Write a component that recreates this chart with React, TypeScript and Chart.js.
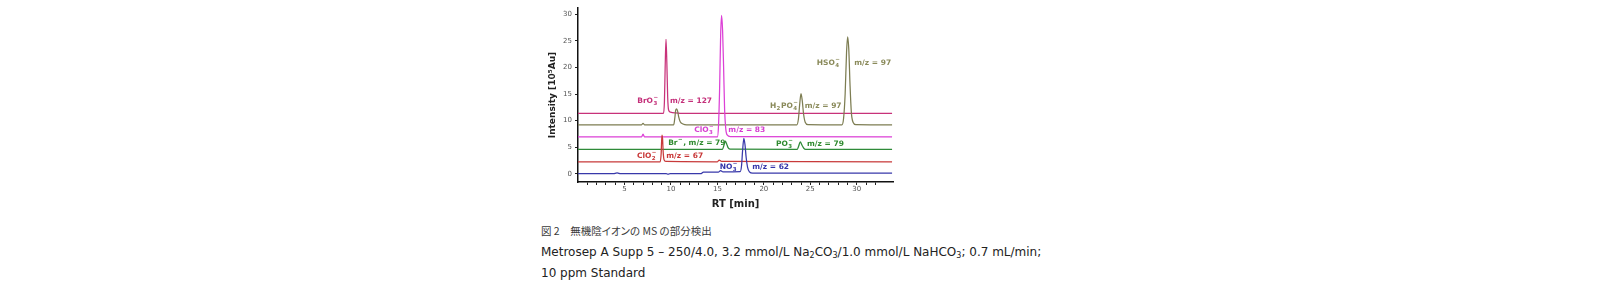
import React, { useEffect, useRef } from "react";
import { Chart, registerables } from "chart.js";

Chart.register(...registerables);

type Pt = [number, number];

// Retention time [min] / intensity [10^5 Au] pairs
const no3Trace: Pt[] = [
  [0, 0], [3.8, 0], [4.2, 0.15], [4.6, 0], [9.5, 0], [9.7, -0.1], [9.9, 0], [13.2, 0], [13.5, 0.3],
  [15.1, 0.3], [15.35, 0.6], [15.6, 0.35], [17.45, 0.4], [17.6, 1.5], [17.72, 4.5], [17.85, 6.65],
  [17.97, 5.5], [18.1, 3], [18.25, 1.2], [18.45, 0.35], [18.8, 0.1], [33.8, 0.1],
];
const clo2Trace: Pt[] = [
  [0, 2.25], [8.85, 2.25], [8.95, 3.8], [9.03, 7.27], [9.1, 6.6], [9.17, 4], [9.27, 2.6], [9.5, 2.3],
  [15.0, 2.25], [15.2, 2.55], [15.45, 2.3], [33.8, 2.25],
];
const brPo3Trace: Pt[] = [
  [0, 4.6], [15.55, 4.6], [15.7, 5.3], [15.85, 6.15], [16.0, 5.6], [16.15, 4.9], [16.35, 4.65],
  [23.6, 4.6], [23.75, 5.2], [23.92, 6.0], [24.1, 5.4], [24.3, 4.8], [24.5, 4.6], [33.8, 4.6],
];
const clo3Trace: Pt[] = [
  [0, 6.95], [6.85, 6.95], [7.0, 7.45], [7.15, 6.95], [15.0, 6.95], [15.12, 9], [15.24, 16],
  [15.35, 26], [15.45, 29.8], [15.56, 27], [15.67, 20], [15.78, 12], [15.9, 8.5], [16.05, 7.3],
  [16.4, 7.0], [33.8, 6.95],
];
const phosSulfTrace: Pt[] = [
  [0, 9.2], [6.85, 9.2], [7.0, 9.5], [7.15, 9.2], [10.3, 9.2], [10.42, 10.5], [10.52, 12.0],
  [10.62, 12.2], [10.72, 11.8], [10.85, 10.6], [11.0, 9.8], [11.3, 9.35], [11.7, 9.2],
  [23.55, 9.2], [23.72, 10.3], [23.87, 13.3], [24.0, 15.1], [24.13, 13.8], [24.28, 11.2],
  [24.45, 9.7], [24.75, 9.25], [28.4, 9.2], [28.58, 10.4], [28.75, 15], [28.9, 22.8],
  [29.02, 25.75], [29.14, 23.5], [29.28, 16.5], [29.42, 11.5], [29.6, 9.7], [29.9, 9.25], [33.8, 9.2],
];
const bro3Trace: Pt[] = [
  [0, 11.35], [9.2, 11.35], [9.3, 13.5], [9.38, 20], [9.47, 25.3], [9.56, 21], [9.65, 14.5],
  [9.75, 12], [9.95, 11.6], [10.5, 11.45], [11.5, 11.35], [33.8, 11.35],
];

const yTickValues = [0, 5, 10, 15, 20, 25, 30];
const xLabelEvery = 5;

// Peak labels: markup ({sub|sup}), retention time, intensity, colour
const peakLabels: [string, number, number, string][] = [
  ["BrO{3|−}", 6.37, 13.67, "#c4307a"],
  ["m/z = 127", 9.9, 13.67, "#c4307a"],
  ["ClO{3|−}", 12.5, 8.2, "#d63fd0"],
  ["m/z = 83", 16.18, 8.2, "#d63fd0"],
  ["Br{|−}, m/z = 79", 9.7, 5.8, "#2f8a2f"],
  ["ClO{2|−}", 6.35, 3.4, "#c83838"],
  ["m/z = 67", 9.5, 3.4, "#c83838"],
  ["NO{3|−}", 15.25, 1.25, "#3535aa"],
  ["m/z = 62", 18.75, 1.25, "#3535aa"],
  ["PO{3|−}", 21.3, 5.6, "#2f8a2f"],
  ["m/z = 79", 24.65, 5.6, "#2f8a2f"],
  ["H{2|}PO{4|−}", 20.65, 12.8, "#8a8a5a"],
  ["m/z = 97", 24.4, 12.8, "#8a8a5a"],
  ["HSO{4|−}", 25.7, 20.8, "#8a8a5a"],
  ["m/z = 97", 29.73, 20.8, "#8a8a5a"],
];

function drawRich(ctx: CanvasRenderingContext2D, markup: string, px: number, py: number, color: string) {
  const main = "bold 7.5px 'DejaVu Sans'";
  const small = "bold 5.5px 'DejaVu Sans'";
  ctx.fillStyle = color;
  ctx.textBaseline = "middle";
  ctx.textAlign = "left";
  const re = /\{([^|}]*)\|([^}]*)\}/g;
  let last = 0;
  let xx = px;
  let m: RegExpExecArray | null;
  while ((m = re.exec(markup))) {
    const plain = markup.slice(last, m.index);
    ctx.font = main;
    ctx.fillText(plain, xx, py);
    xx += ctx.measureText(plain).width;
    ctx.font = small;
    let w = 0;
    if (m[1]) {
      ctx.fillText(m[1], xx + 0.4, py + 2.6);
      w = Math.max(w, ctx.measureText(m[1]).width);
    }
    if (m[2]) {
      ctx.fillText(m[2], xx + 0.4, py - 3.2);
      w = Math.max(w, ctx.measureText(m[2]).width);
    }
    xx += w + 1;
    last = re.lastIndex;
  }
  const rest = markup.slice(last);
  if (rest) {
    ctx.font = main;
    ctx.fillText(rest, xx, py);
  }
}

const labelPlugin = {
  id: "peakLabels",
  afterDatasetsDraw(chart: any) {
    const { ctx, scales } = chart;
    ctx.save();
    for (const [markup, t, v, color] of peakLabels) {
      drawRich(ctx, markup, scales.x.getPixelForValue(t), scales.y.getPixelForValue(v), color);
    }
    ctx.restore();
  },
};

const series = [
  { data: no3Trace, color: "#3838aa" },
  { data: clo2Trace, color: "#c83a3a" },
  { data: brPo3Trace, color: "#2e8a38" },
  { data: clo3Trace, color: "#dc40d6" },
  { data: phosSulfTrace, color: "#7d7d52" },
  { data: bro3Trace, color: "#c8327a" },
];

function ChartView() {
  const ref = useRef<HTMLCanvasElement>(null);
  useEffect(() => {
    if (!ref.current) return;
    const chart = new Chart(ref.current, {
      type: "line",
      data: {
        datasets: series.map((s) => ({
          data: s.data.map(([x, y]) => ({ x, y })),
          borderColor: s.color,
          borderWidth: 1.25,
          pointRadius: 0,
          fill: false,
          cubicInterpolationMode: "monotone" as const,
        })),
      },
      options: {
        animation: false,
        responsive: false,
        events: [],
        layout: { padding: { top: 8, right: 7, left: 0, bottom: 0 } },
        plugins: { legend: { display: false }, tooltip: { enabled: false } },
        scales: {
          x: {
            type: "linear",
            min: 0,
            max: 33.9,
            afterBuildTicks: (s: any) => {
              s.ticks = s.ticks.filter((t: any) => Number.isInteger(t.value) && t.value > 0);
            },
            afterFit: (s: any) => {
              s.height = 33;
            },
            ticks: {
              stepSize: 1,
              autoSkip: false,
              maxRotation: 0,
              padding: 0,
              color: "#555",
              font: { family: "'DejaVu Sans'", size: 7 },
              callback: (v: any) => (Number(v) % xLabelEvery === 0 ? String(v) : ""),
            },
            grid: { drawOnChartArea: false, drawTicks: true, tickLength: 3, color: "#222", tickWidth: 1 },
            border: { display: true, color: "#111", width: 1.5 },
            title: {
              display: true,
              text: "RT [min]",
              color: "#222",
              font: { family: "'DejaVu Sans'", size: 10, weight: "bold" },
              padding: { top: 0, bottom: 5 },
            },
          },
          y: {
            type: "linear",
            min: -1.56,
            max: 31.2,
            afterBuildTicks: (s: any) => {
              s.ticks = yTickValues.map((v) => ({ value: v }));
            },
            afterFit: (s: any) => {
              s.width = 58;
            },
            ticks: {
              padding: 3,
              color: "#555",
              font: { family: "'DejaVu Sans'", size: 7 },
            },
            grid: { drawOnChartArea: false, drawTicks: true, tickLength: 3, color: "#222", tickWidth: 1 },
            border: { display: true, color: "#111", width: 1.5 },
            title: {
              display: true,
              text: "Intensity [10⁵Au]",
              color: "#222",
              font: { family: "'DejaVu Sans'", size: 9, weight: "bold" },
              padding: { top: 27, bottom: 0 },
            },
          },
        },
      },
      plugins: [labelPlugin],
    });
    return () => chart.destroy();
  }, []);
  return (
    <canvas
      ref={ref}
      width={380}
      height={215}
      style={{ position: "absolute", left: 520, top: 0, width: 380, height: 215 }}
    />
  );
}

export default function App() {
  const sub: React.CSSProperties = { fontSize: "8px", verticalAlign: "-2px", lineHeight: 0 };
  return (
    <div style={{ position: "absolute", left: 0, top: 0, width: 1600, height: 291, background: "#fff", overflow: "hidden" }}>
      <ChartView />
      <div
        style={{
          position: "absolute",
          left: 541,
          top: 224,
          fontFamily: "'Noto Sans CJK JP', 'DejaVu Sans', sans-serif",
          fontSize: "10.5px",
          lineHeight: "14px",
          color: "#3a3a3a",
          whiteSpace: "nowrap",
          fontFeatureSettings: "'palt'",
        }}
      >
        図 2　無機陰イオンの MS の部分検出
      </div>
      <div
        style={{
          position: "absolute",
          left: 541,
          top: 245,
          fontFamily: "'DejaVu Sans', sans-serif",
          fontSize: "12px",
          lineHeight: "14px",
          color: "#222",
          whiteSpace: "nowrap",
        }}
      >
        Metrosep A Supp 5 – 250/4.0, 3.2 mmol/L Na<span style={sub}>2</span>CO<span style={sub}>3</span>/1.0 mmol/L NaHCO
        <span style={sub}>3</span>; 0.7 mL/min;
      </div>
      <div
        style={{
          position: "absolute",
          left: 541,
          top: 266,
          fontFamily: "'DejaVu Sans', sans-serif",
          fontSize: "12px",
          lineHeight: "14px",
          color: "#222",
          whiteSpace: "nowrap",
        }}
      >
        10 ppm Standard
      </div>
    </div>
  );
}
